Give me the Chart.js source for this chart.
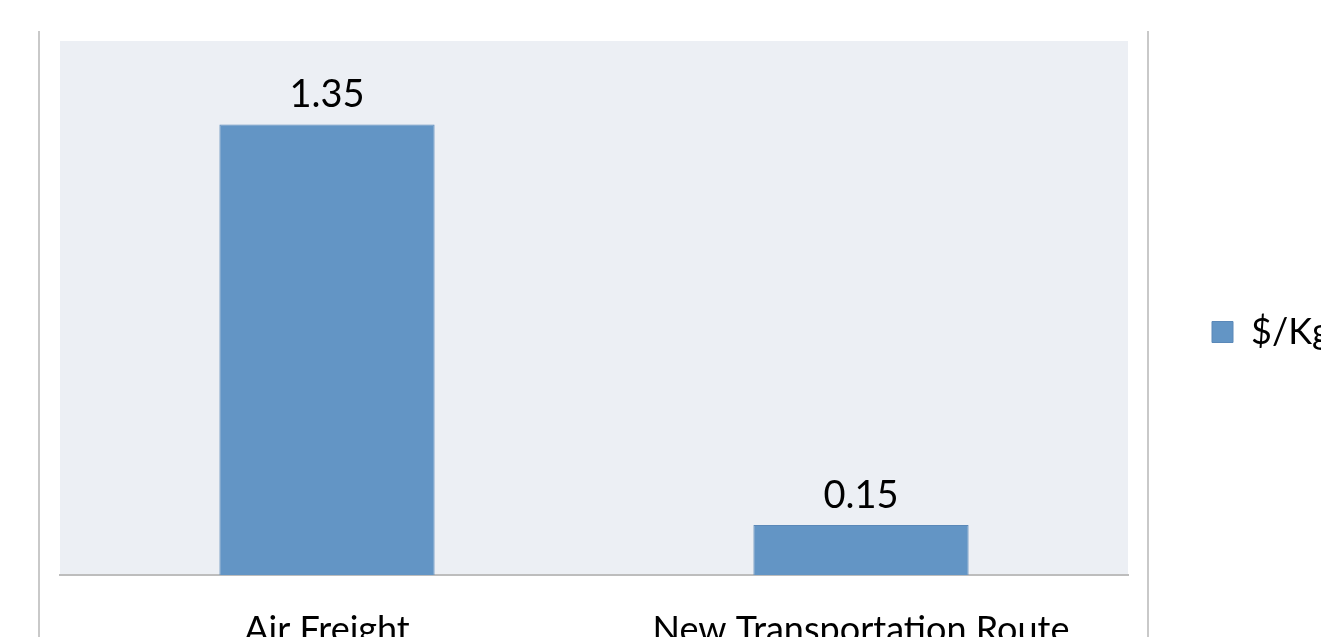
<!DOCTYPE html>
<html>
<head>
<meta charset="utf-8">
<script src="https://cdn.jsdelivr.net/npm/chart.js@4"></script>
<style>
  html, body { margin: 0; padding: 0; background: #fff; overflow: hidden; }
  #wrap { width: 1321px; height: 637px; position: relative; }
</style>
</head>
<body>
<div id="wrap"><canvas id="graficoCusto"></canvas></div>
<script>
const categorias = ['Air Freight', 'New Transportation Route'];
const custoPorKg = [1.35, 0.15];
const serieNome = '$/Kg';

// fundo da área do gráfico e moldura lateral
const fundoPlugin = {
  id: 'fundo',
  beforeDraw(chart) {
    const { ctx, chartArea } = chart;
    ctx.save();
    ctx.fillStyle = '#ECEFF4';
    ctx.fillRect(chartArea.left, chartArea.top, chartArea.right - chartArea.left, chartArea.bottom - chartArea.top);
    ctx.strokeStyle = '#C9C9C9';
    ctx.lineWidth = 2;
    ctx.beginPath();
    ctx.moveTo(39, 31); ctx.lineTo(39, chart.height);
    ctx.moveTo(1148, 31); ctx.lineTo(1148, chart.height);
    ctx.stroke();
    ctx.restore();
  }
};

// valores acima das barras
const rotulosPlugin = {
  id: 'rotulos',
  afterDatasetsDraw(chart) {
    const { ctx } = chart;
    ctx.save();
    ctx.font = '38px Lato';
    ctx.fillStyle = '#000';
    ctx.textAlign = 'center';
    ctx.textBaseline = 'alphabetic';
    chart.getDatasetMeta(0).data.forEach((bar, i) => {
      ctx.fillText(custoPorKg[i].toFixed(2), bar.x, bar.y - 17);
    });
    ctx.restore();
  }
};

const ctx = document.getElementById('graficoCusto').getContext('2d');
new Chart(ctx, {
  type: 'bar',
  data: {
    labels: categorias,
    datasets: [{
      label: serieNome,
      data: custoPorKg,
      backgroundColor: '#6395C5',
      borderColor: '#5A88B8',
      borderWidth: 1,
      categoryPercentage: 0.403,
      barPercentage: 1
    }]
  },
  options: {
    responsive: true,
    maintainAspectRatio: false,
    animation: false,
    layout: {
      padding: { left: 60, top: 27, right: 0, bottom: 0 }
    },
    plugins: {
      tooltip: { enabled: false },
      // título vazio só para afastar a área do gráfico do topo sem mexer na legenda
      title: {
        display: true,
        text: '',
        fullSize: false,
        padding: 0,
        font: { size: 14, lineHeight: 1 }
      },
      legend: {
        position: 'right',
        maxWidth: 193,
        labels: {
          boxWidth: 21,
          boxHeight: 21,
          padding: 84,
          color: '#000',
          font: { family: 'Lato', size: 36 }
        }
      }
    },
    scales: {
      y: {
        display: false,
        min: 0,
        max: 1.6
      },
      x: {
        grid: { display: false, drawTicks: false },
        border: { color: '#BDBDBD', width: 2 },
        ticks: {
          padding: 34,
          color: '#000',
          font: { family: 'Lato', size: 36 }
        },
        afterFit: function(scale) {
          scale.height = 62;
        }
      }
    }
  },
  plugins: [fundoPlugin, rotulosPlugin]
});
</script>
</body>
</html>
